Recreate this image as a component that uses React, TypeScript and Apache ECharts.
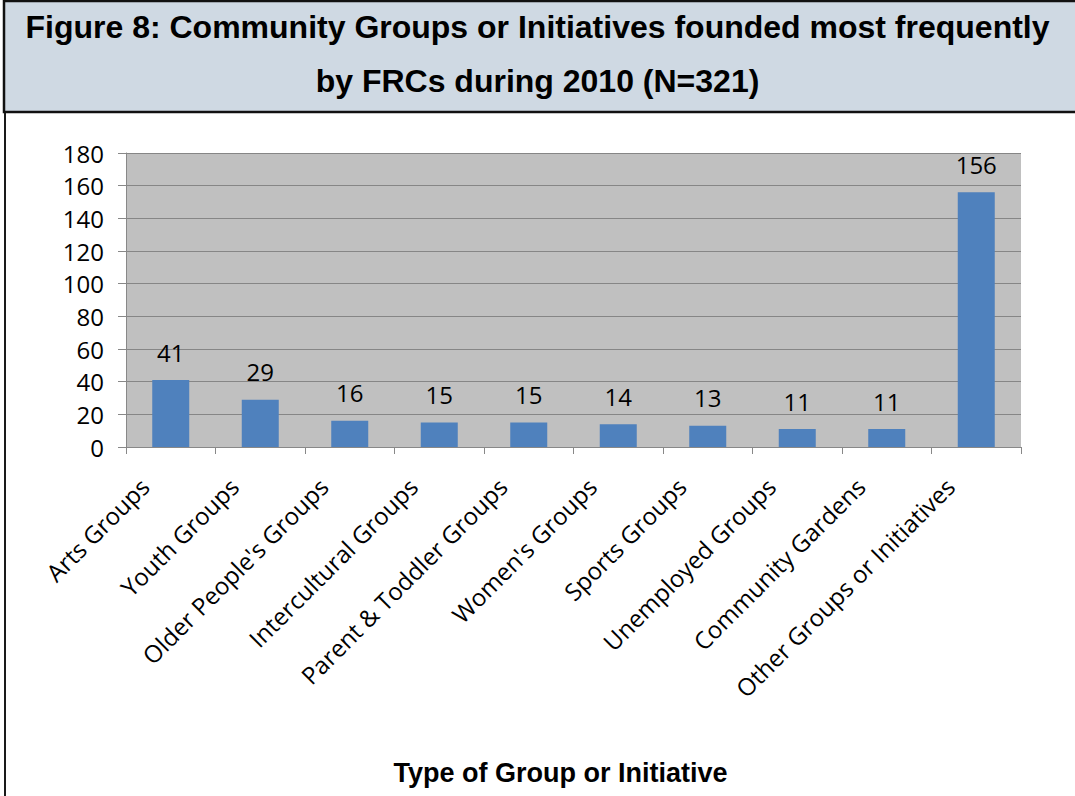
import React, { useEffect, useRef } from "react";
import * as echarts from "echarts";

const categories: string[] = [
  "Arts Groups",
  "Youth Groups",
  "Older People's Groups",
  "Intercultural Groups",
  "Parent & Toddler Groups",
  "Women's Groups",
  "Sports Groups",
  "Unemployed Groups",
  "Community Gardens",
  "Other Groups or Initiatives",
];
const counts: number[] = [41, 29, 16, 15, 15, 14, 13, 11, 11, 156];
const titleText = "Figure 8: Community Groups or Initiatives founded most frequently\nby FRCs during 2010 (N=321)";
const xAxisTitle = "Type of Group or Initiative";

export default function App() {
  const ref = useRef<HTMLDivElement>(null);
  useEffect(() => {
    document.body.style.margin = "0";
    if (!ref.current) return;
    const chart = echarts.init(ref.current, undefined, { renderer: "svg" });
    chart.setOption({
      animation: false,
      backgroundColor: "#ffffff",
      graphic: [
        {
          type: "rect",
          z: -10,
          shape: { x: 4, y: 1, width: 1080, height: 111 },
          style: { fill: "#cfd9e3", stroke: "#111111", lineWidth: 2.5 },
        },
        {
          type: "line",
          shape: { x1: 5, y1: 113, x2: 5, y2: 796 },
          style: { stroke: "#1a1a1a", lineWidth: 2 },
        },
      ],
      title: {
        text: titleText,
        left: "center",
        top: 0,
        padding: 0,
        textStyle: {
          fontFamily: "Liberation Sans, Arial, sans-serif",
          fontWeight: "bold",
          fontSize: 32,
          lineHeight: 54,
          color: "#000",
        },
      },
      grid: {
        left: 126,
        right: 54,
        top: 153,
        bottom: 349,
        show: true,
        backgroundColor: "#c0c0c0",
        borderWidth: 0,
      },
      xAxis: {
        type: "category",
        data: categories,
        name: xAxisTitle,
        nameLocation: "middle",
        nameGap: 312,
        nameTextStyle: {
          fontFamily: "Liberation Sans, Arial, sans-serif",
          fontWeight: "bold",
          fontSize: 27,
          color: "#000",
          padding: [0, 26, 0, 0],
        },
        axisLine: { show: true, lineStyle: { color: "#888888", width: 1 } },
        axisTick: { show: true, length: 7, lineStyle: { color: "#888888" } },
        axisLabel: {
          rotate: 45,
          interval: 0,
          margin: 9,
          fontFamily: "Open Sans, sans-serif",
          fontSize: 24,
          color: "#000",
          padding: [0, 37, 0, 0],
        },
      },
      yAxis: {
        type: "value",
        min: 0,
        max: 180,
        interval: 20,
        axisLine: { show: true, lineStyle: { color: "#888888", width: 1 } },
        axisTick: { show: true, length: 8, lineStyle: { color: "#888888" } },
        splitLine: { show: true, lineStyle: { color: "#868686", width: 1 } },
        axisLabel: {
          margin: 22,
          fontFamily: "Open Sans, sans-serif",
          fontSize: 24,
          color: "#000",
        },
      },
      series: [
        {
          type: "bar",
          data: counts,
          barWidth: 37,
          itemStyle: { color: "#4f81bd" },
          label: {
            show: true,
            position: "top",
            distance: 16,
            fontFamily: "Open Sans, sans-serif",
            fontSize: 24,
            color: "#000",
          },
        },
      ],
    });
    return () => chart.dispose();
  }, []);
  return <div ref={ref} style={{ width: 1075, height: 796 }} />;
}
